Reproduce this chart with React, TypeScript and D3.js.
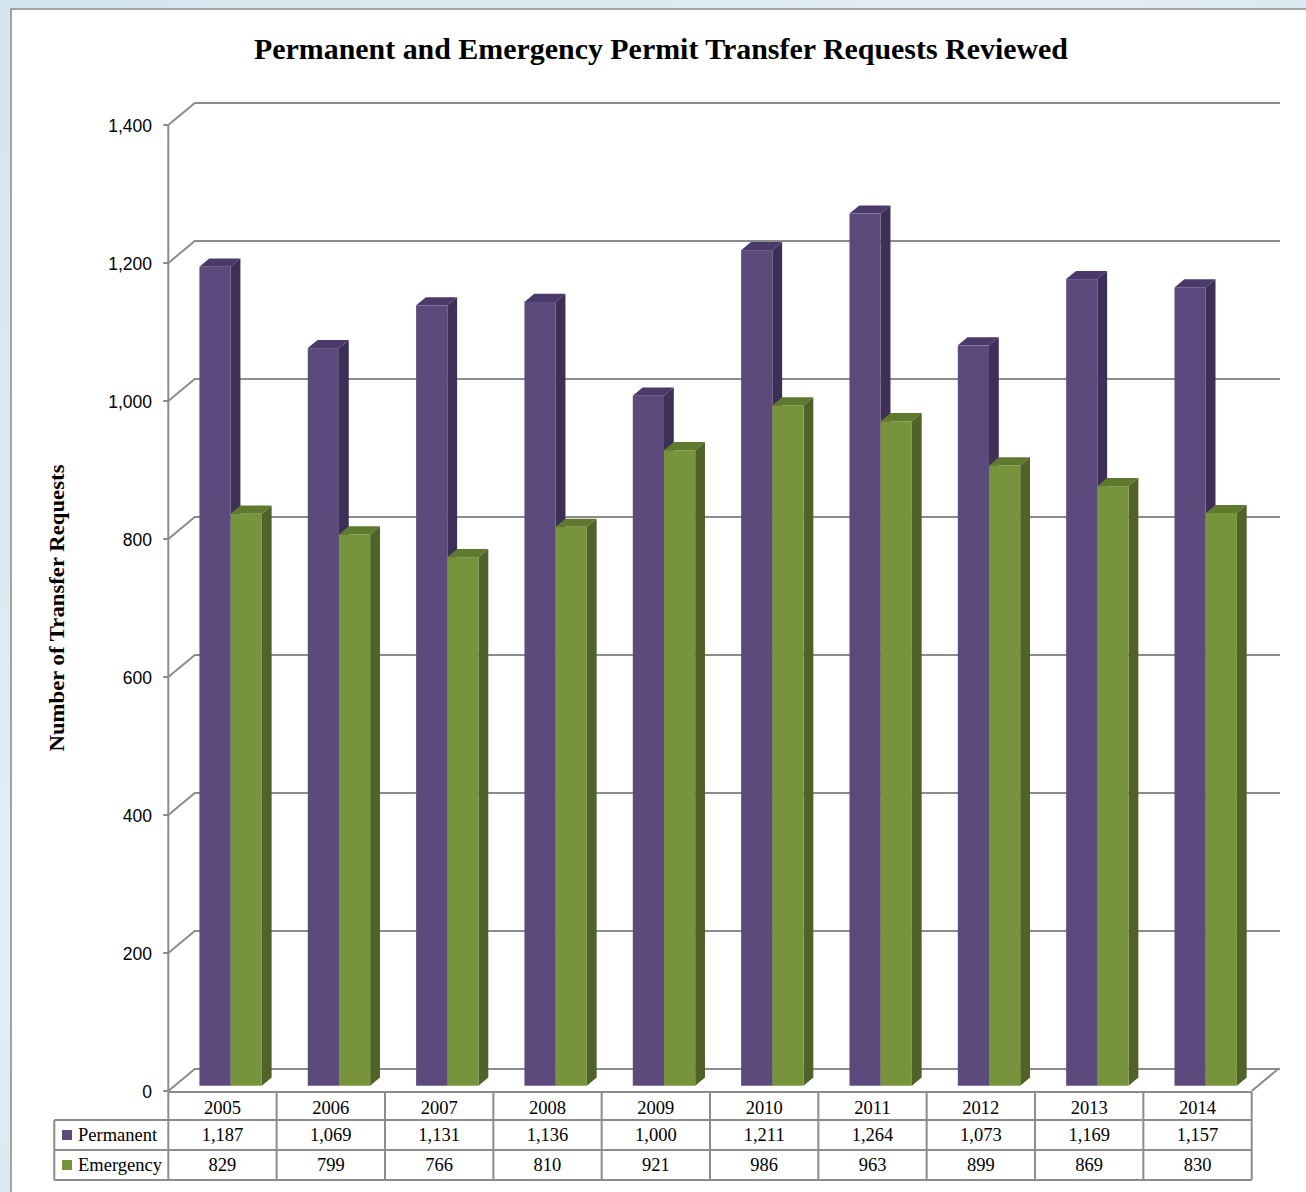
import React from "react";
import * as d3 from "d3";

// Yearly counts of reviewed permit transfer requests
const years = ["2005", "2006", "2007", "2008", "2009", "2010", "2011", "2012", "2013", "2014"];
const permanent = [1187, 1069, 1131, 1136, 1000, 1211, 1264, 1073, 1169, 1157];
const emergency = [829, 799, 766, 810, 921, 986, 963, 899, 869, 830];
const yTicks = [0, 200, 400, 600, 800, 1000, 1200, 1400];
const seriesNames = ["Permanent", "Emergency"];

const W = 1306;
const H = 1192;

// oblique depth of the 3D box (full depth)
const DX = 26.5;
const DY = -22;
// bar slab position inside the depth
const Z_FRONT = 0.24;
const Z_BACK = 0.61;

const palette = {
  Permanent: { front: "#5d4a7c", side: "#3e2f56", top: "#4b3a69" },
  Emergency: { front: "#77933c", side: "#4f6228", top: "#5f7a2e" },
};

const fmt = d3.format(",");

export default function App() {
  const x = d3.scaleBand<string>().domain(years).range([168.3, 1251.7]).padding(0);
  const y = d3.scaleLinear().domain([0, 1400]).range([1091, 125]);

  const barW = 31.2;
  const sub = (c: number) =>
    d3.scaleBand<string>().domain(seriesNames).range([c - barW, c + barW]).padding(0);

  const gridColor = "#8c8c8c";
  const xLeft = 168.3;
  const xRightBack = 1280;
  const tableLeft = 54.3;
  const rowTop = 1092;
  const rowH = [28, 30, 30];
  const rows = [rowTop, rowTop + rowH[0], rowTop + rowH[0] + rowH[1], rowTop + rowH[0] + rowH[1] + rowH[2]];

  const dxf = DX * Z_FRONT, dyf = DY * Z_FRONT;
  const dxb = DX * Z_BACK, dyb = DY * Z_BACK;

  const bars: React.ReactNode[] = [];
  years.forEach((yr, i) => {
    const c = (x(yr) as number) + x.bandwidth() / 2 + 1.8;
    const s = sub(c);
    const vals = [permanent[i], emergency[i]];
    seriesNames.forEach((name, k) => {
      const v = vals[k];
      const x0 = s(name) as number;
      const w = s.bandwidth();
      const yv = y(v);
      const y0 = y(0);
      const col = (palette as any)[name];
      const top = [
        [x0 + dxf, yv + dyf],
        [x0 + w + dxf, yv + dyf],
        [x0 + w + dxb, yv + dyb],
        [x0 + dxb, yv + dyb],
      ];
      const side = [
        [x0 + w + dxf, yv + dyf],
        [x0 + w + dxb, yv + dyb],
        [x0 + w + dxb, y0 + dyb],
        [x0 + w + dxf, y0 + dyf],
      ];
      bars.push(
        <g key={yr + name}>
          <polygon points={top.map((p) => p.join(",")).join(" ")} fill={col.top} />
          <polygon points={side.map((p) => p.join(",")).join(" ")} fill={col.side} />
          <rect x={x0 + dxf} y={yv + dyf} width={w} height={y0 - yv} fill={col.front} />
        </g>
      );
    });
  });

  return (
    <svg
      width={W}
      height={H}
      viewBox={`0 0 ${W} ${H}`}
      style={{ position: "absolute", left: 0, top: 0, display: "block" }}
    >
      <defs>
        <linearGradient id="water" x1="0" y1="0" x2="1" y2="1">
          <stop offset="0" stopColor="#d3e5ef" />
          <stop offset="0.4" stopColor="#e2eef5" />
          <stop offset="0.7" stopColor="#cfe2ed" />
          <stop offset="1" stopColor="#dcebf3" />
        </linearGradient>
      </defs>
      <rect x={0} y={0} width={W} height={H} fill="url(#water)" />
      <rect x={11} y={9} width={W + 20} height={H + 20} fill="#ffffff" stroke="#a3a3a3" strokeWidth={2} />

      {/* title */}
      <text
        x={661}
        y={59}
        textAnchor="middle"
        fontFamily="'Liberation Serif', 'Times New Roman', serif"
        fontWeight="bold"
        fontSize={29}
        textLength={814}
        lengthAdjust="spacingAndGlyphs"
        fill="#000"
      >
        Permanent and Emergency Permit Transfer Requests Reviewed
      </text>

      {/* back wall gridlines with left wall diagonals */}
      {yTicks.map((t) => {
        const yy = y(t);
        return (
          <g key={"g" + t}>
            <polyline
              points={`${xLeft},${yy} ${xLeft + DX},${yy + DY} ${xRightBack},${yy + DY}`}
              fill="none"
              stroke={gridColor}
              strokeWidth={2}
            />
            <line x1={xLeft - 5} x2={xLeft} y1={yy} y2={yy} stroke={gridColor} strokeWidth={2} />
            <text
              x={152}
              y={yy + 1}
              dy="0.36em"
              textAnchor="end"
              fontFamily="'Liberation Sans', Arial, sans-serif"
              fontSize={17.5}
              fill="#000"
            >
              {fmt(t)}
            </text>
          </g>
        );
      })}
      {/* vertical axis line */}
      <line x1={xLeft} x2={xLeft} y1={y(1400)} y2={y(0)} stroke={gridColor} strokeWidth={2} />
      {/* floor right edge */}
      <line x1={1251.7} y1={y(0)} x2={1251.7 + DX} y2={y(0) + DY} stroke={gridColor} strokeWidth={2} />

      {bars}

      {/* axis title */}
      <text
        transform={`translate(64,608) rotate(-90)`}
        textAnchor="middle"
        fontFamily="'Liberation Serif', 'Times New Roman', serif"
        fontWeight="bold"
        fontSize={21}
        textLength={287}
        lengthAdjust="spacingAndGlyphs"
        fill="#000"
      >
        Number of Transfer Requests
      </text>

      {/* data table */}
      <g stroke={gridColor} strokeWidth={2} fill="none">
        <line x1={xLeft} x2={1251.7} y1={rows[0]} y2={rows[0]} />
        <line x1={tableLeft} x2={1251.7} y1={rows[1]} y2={rows[1]} />
        <line x1={tableLeft} x2={1251.7} y1={rows[2]} y2={rows[2]} />
        <line x1={tableLeft} x2={1251.7} y1={rows[3]} y2={rows[3]} />
        <line x1={tableLeft} x2={tableLeft} y1={rows[1]} y2={rows[3]} />
        {years.map((yr) => (
          <line key={"v" + yr} x1={x(yr) as number} x2={x(yr) as number} y1={rows[0]} y2={rows[3]} />
        ))}
        <line x1={1251.7} x2={1251.7} y1={rows[0]} y2={rows[3]} />
      </g>
      <g fontFamily="'Liberation Serif', 'Times New Roman', serif" fontSize={18.5} fill="#000" textAnchor="middle">
        {years.map((yr, i) => {
          const cx = (x(yr) as number) + x.bandwidth() / 2;
          return (
            <g key={"t" + yr}>
              <text x={cx} y={(rows[0] + rows[1]) / 2 + 1.5} dy="0.35em">{yr}</text>
              <text x={cx} y={(rows[1] + rows[2]) / 2} dy="0.35em">{fmt(permanent[i])}</text>
              <text x={cx} y={(rows[2] + rows[3]) / 2} dy="0.35em">{fmt(emergency[i])}</text>
            </g>
          );
        })}
      </g>
      {seriesNames.map((name, k) => {
        const cy = (rows[k + 1] + rows[k + 2]) / 2;
        return (
          <g key={"leg" + name}>
            <rect x={62} y={cy - 5} width={10} height={10} fill={(palette as any)[name].front} />
            <text
              x={78}
              y={cy}
              dy="0.35em"
              fontFamily="'Liberation Serif', 'Times New Roman', serif"
              fontSize={18.5}
              fill="#000"
            >
              {name}
            </text>
          </g>
        );
      })}
    </svg>
  );
}
